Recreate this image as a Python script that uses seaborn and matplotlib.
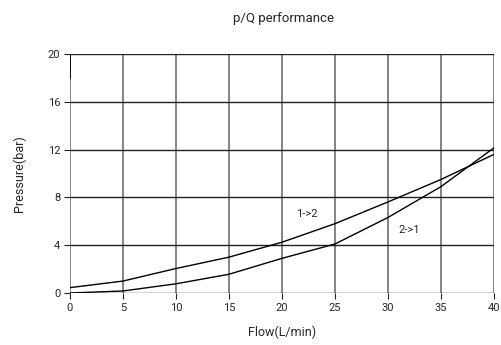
import numpy as np
import pandas as pd
import seaborn as sns
import matplotlib.pyplot as plt

flow = [0, 5, 10, 15, 20, 25, 30, 35, 40]
p_12 = [0.45, 1.0, 2.05, 3.0, 4.25, 5.8, 7.62, 9.5, 11.6]
p_21 = [0.0, 0.17, 0.77, 1.57, 2.9, 4.1, 6.32, 8.9, 12.15]

df = pd.DataFrame({
    'flow': flow + flow,
    'pressure': p_12 + p_21,
    'dir': ['1->2'] * len(flow) + ['2->1'] * len(flow),
})

sns.set_style('white')
plt.rcParams['font.family'] = ['Roboto', 'DejaVu Sans']

fig = plt.figure(figsize=(5.02, 3.45), dpi=100)
ax = fig.add_axes([0.1394, 0.1507, 0.8446, 0.6928])

sns.lineplot(data=df, x='flow', y='pressure', hue='dir', palette=['black', 'black'],
             linewidth=1.0, legend=False, ax=ax)

ax.set_xlim(0, 40)
ax.set_ylim(0, 20)
ax.set_xticks(range(0, 41, 5))
ax.set_yticks(range(0, 21, 4))
for x in range(0, 41, 5):
    ax.axvline(x, color='#707070', lw=1.2, zorder=0)
for y in range(0, 21, 4):
    ax.axhline(y, color='#222222', lw=1.0, zorder=0)
ax.plot([0, 0], [18, 20], color='black', lw=1.3)
for s in ax.spines.values():
    s.set_visible(False)
ax.tick_params(axis='both', length=4, width=0.8, color='#222222', labelsize=8, pad=3,
               direction='out', bottom=True, left=True)

ax.text(21.3, 6.6, '1->2', fontsize=8, va='center')
ax.text(31.0, 5.3, '2->1', fontsize=8, va='center')

ax.set_xlabel('Flow(L/min)', fontsize=9, labelpad=9)
ax.set_ylabel('Pressure(bar)', fontsize=9, labelpad=16)
fig.text(0.564, 0.945, 'p/Q performance', ha='center', va='center', fontsize=9.5)

fig.savefig('out.png', dpi=100, facecolor='white')
